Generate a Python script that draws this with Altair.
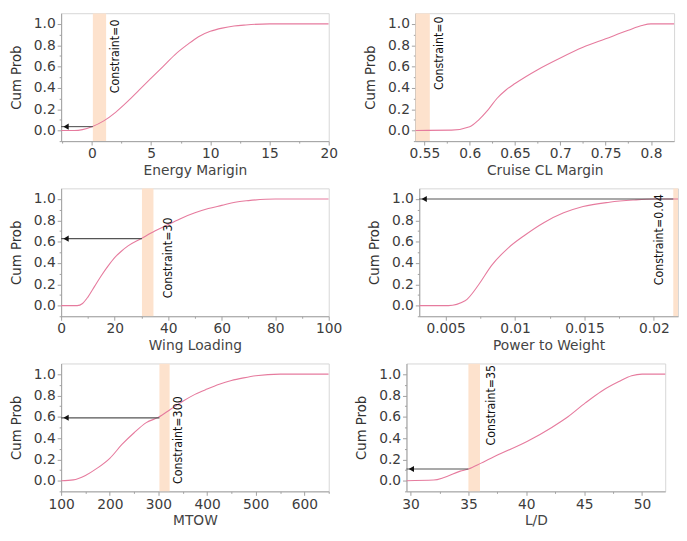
import altair as alt
import pandas as pd

# ---------------- data ----------------
energy_x = [-2.6, -1.5, -0.8, 0, 1, 2, 3, 4, 5, 6, 7, 8, 9, 10, 11, 12, 13, 15, 20]
energy_p = [0, 0, 0.008, 0.035, 0.09, 0.17, 0.27, 0.38, 0.49, 0.6, 0.71, 0.8, 0.88, 0.93, 0.96, 0.98, 0.99, 1.0, 1.0]

cruise_x = [0.54, 0.58, 0.6, 0.61, 0.62, 0.63, 0.64, 0.65, 0.675, 0.7, 0.725, 0.75, 0.775, 0.79, 0.8, 0.84]
cruise_p = [0, 0.003, 0.035, 0.1, 0.19, 0.3, 0.38, 0.44, 0.57, 0.68, 0.78, 0.86, 0.94, 0.985, 1.0, 1.0]

wing_x = [0, 6, 8, 10, 12.5, 15, 17.5, 20, 22.5, 25, 30, 35, 40, 45, 50, 55, 60, 65, 70, 80, 100]
wing_p = [0, 0, 0.02, 0.08, 0.18, 0.28, 0.37, 0.45, 0.51, 0.56, 0.63, 0.70, 0.76, 0.82, 0.87, 0.91, 0.94, 0.97, 0.985, 1.0, 1.0]

power_x = [0.0031, 0.0052, 0.0064, 0.0074, 0.0083, 0.0095, 0.0107, 0.0121, 0.0135, 0.0149, 0.0168, 0.0185, 0.02, 0.0225]
power_p = [0, 0, 0.045, 0.2, 0.375, 0.54, 0.66, 0.78, 0.87, 0.93, 0.97, 0.99, 1.0, 1.0]

mtow_x = [100, 125, 150, 175, 200, 225, 250, 275, 300, 325, 350, 375, 400, 425, 450, 475, 500, 550, 650]
mtow_p = [0, 0.008, 0.05, 0.12, 0.21, 0.34, 0.45, 0.545, 0.595, 0.67, 0.745, 0.81, 0.86, 0.905, 0.94, 0.965, 0.985, 1.0, 1.0]

ld_x = [29.65, 32, 32.9, 34.3, 35, 36.1, 37.8, 40.1, 42.2, 43.6, 45.1, 46.5, 48, 49.1, 50, 53]
ld_p = [0, 0.006, 0.03, 0.09, 0.11, 0.165, 0.255, 0.37, 0.5, 0.6, 0.73, 0.84, 0.93, 0.985, 1.0, 1.0]

titles = ["Energy Marigin", "Cruise CL Margin", "Wing Loading", "Power to Weight", "MTOW", "L/D"]
labels = ["Constraint=0", "Constraint=0", "Constraint=30", "Constraint=0.04", "Constraint=300", "Constraint=35"]
x_domains = [[-2.6, 20], [0.540, 0.8255], [0, 100], [0.0031, 0.02174], [100, 650], [29.65, 52.0]]
x_ticks = [[-2.5, 0, 2.5, 5, 7.5, 10, 12.5, 15, 17.5, 20],
           [0.55, 0.575, 0.6, 0.625, 0.65, 0.675, 0.7, 0.725, 0.75, 0.775, 0.8],
           [0, 10, 20, 30, 40, 50, 60, 70, 80, 90, 100],
           [0.005, 0.0075, 0.01, 0.0125, 0.015, 0.0175, 0.02],
           [100, 150, 200, 250, 300, 350, 400, 450, 500, 550, 600, 650],
           [30, 32.5, 35, 37.5, 40, 42.5, 45, 47.5, 50]]
x_major_step = [5, 0.05, 20, 0.005, 100, 5]
x_formats = [".4~f", ".2~f", "d", ".3~f", "d", ".4~f"]
band_lo = [0.08, 0.540, 30.2, 0.0214, 302, 35.0]
band_hi = [1.2, 0.556, 34.5, 0.02174, 323, 36.0]
arrow_y = [0.036, None, 0.628, 1.0, 0.59, 0.11]
arrow_from = [0.08, None, 30.2, 0.0214, 302, 35.0]
label_x = [1.2, 0.556, 34.5, 0.0214, 323, 36.0]
label_y = [0.35, 0.38, 0.07, 0.19, -0.03, 0.33]
label_dx = [9, 9, 15, -14, 9, 11]
y_ticks = [-0.1, 0, 0.1, 0.2, 0.3, 0.4, 0.5, 0.6, 0.7, 0.8, 0.9, 1.0]

curves = [(energy_x, energy_p), (cruise_x, cruise_p), (wing_x, wing_p),
          (power_x, power_p), (mtow_x, mtow_p), (ld_x, ld_p)]

CURVE = "#e67b9e"
BAND = "#fde2cd"
NARROW = "'Liberation Sans Narrow', 'DejaVu Sans Condensed', 'Roboto Condensed', sans-serif"
LABELF = "DejaVu Sans"
W_LEFT, W_RIGHT, H = 272, 263, 130


def is_major(step):
    return f"abs(datum.value / {step} - round(datum.value / {step})) < 1e-6"


def panel(i, width):
    xs, ps = curves[i]
    df = pd.DataFrame({"x": xs, "p": ps})
    xscale = alt.Scale(domain=x_domains[i], nice=False, zero=False)
    yscale = alt.Scale(domain=[-0.1, 1.1], nice=False, zero=False)
    xm = is_major(x_major_step[i])
    ym = is_major(0.2)
    xaxis = alt.Axis(values=x_ticks[i], format=x_formats[i], title=titles[i], grid=False,
                     labelExpr=f"({xm}) ? datum.label : ''",
                     tickSize={"condition": {"test": xm, "value": 4}, "value": 2},
                     labelFont=LABELF, labelFontSize=14, labelColor="#3c3c3c",
                     titleFont=LABELF, titleFontSize=14, titleFontWeight="normal", titleColor="#444444",
                     labelPadding=2, titlePadding=3, labelFlush=False, labelOverlap=False)
    yaxis = alt.Axis(values=y_ticks, format=".1f", title="Cum Prob", grid=False,
                     labelExpr=f"({ym}) ? datum.label : ''",
                     tickSize={"condition": {"test": ym, "value": 4}, "value": 2},
                     labelFont=LABELF, labelFontSize=14, labelColor="#3c3c3c",
                     titleFont=NARROW, titleFontSize=15, titleFontWeight="normal", titleColor="#333333",
                     labelPadding=2, titlePadding=10, labelOverlap=False)

    band_df = pd.DataFrame({"lo": [band_lo[i]], "hi": [band_hi[i]]})
    band = alt.Chart(band_df).mark_rect(color=BAND, clip=True).encode(
        x=alt.X("lo:Q", scale=xscale, axis=xaxis), x2="hi:Q")

    line = alt.Chart(df).mark_line(color=CURVE, strokeWidth=1.1, interpolate="monotone", clip=True).encode(
        x=alt.X("x:Q", scale=xscale, axis=xaxis),
        y=alt.Y("p:Q", scale=yscale, axis=yaxis))

    layers = [band, line]

    if arrow_y[i] is not None:
        arr_df = pd.DataFrame({"x0": [arrow_from[i]], "x1": [x_domains[i][0]], "y": [arrow_y[i]]})
        rule = alt.Chart(arr_df).mark_rule(color="#555555", strokeWidth=1.1).encode(
            x=alt.X("x0:Q", scale=xscale, axis=xaxis), x2="x1:Q",
            y=alt.Y("y:Q", scale=yscale, axis=yaxis))
        head = alt.Chart(arr_df).mark_point(shape="triangle-left", filled=True, size=38,
                                            color="#111111", opacity=1, xOffset=5).encode(
            x=alt.X("x1:Q", scale=xscale, axis=xaxis),
            y=alt.Y("y:Q", scale=yscale, axis=yaxis))
        layers += [rule, head]

    txt_df = pd.DataFrame({"x": [label_x[i]], "y": [label_y[i]], "t": [labels[i]]})
    text = alt.Chart(txt_df).mark_text(angle=270, align="left", baseline="middle",
                                       font=NARROW, fontSize=12.5, color="#111111",
                                       xOffset=label_dx[i]).encode(
        x=alt.X("x:Q", scale=xscale, axis=xaxis),
        y=alt.Y("y:Q", scale=yscale, axis=yaxis),
        text="t:N")
    layers.append(text)

    return alt.layer(*layers).properties(width=width, height=H)


rows = []
for r in range(3):
    rows.append(alt.hconcat(panel(2 * r, W_LEFT), panel(2 * r + 1, W_RIGHT), spacing=24))

chart = alt.vconcat(*rows, spacing=9).properties(padding=0).configure_view(
    stroke="#d6d6d6", strokeWidth=1).configure_axis(
    domainColor="#a0a0a0", tickColor="#a0a0a0")

chart.save("out.html", embed_options={"renderer": "svg", "actions": False})
